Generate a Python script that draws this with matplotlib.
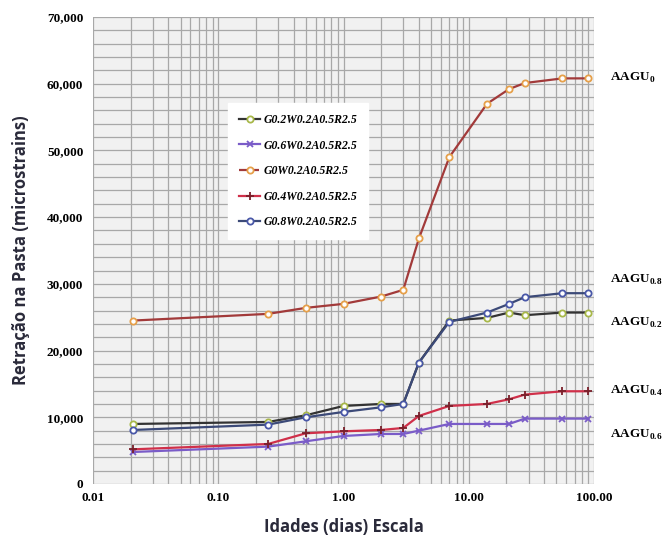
import matplotlib
matplotlib.use("Agg")
import matplotlib.pyplot as plt
from matplotlib.ticker import FixedLocator, FuncFormatter, MultipleLocator, LogLocator, NullFormatter

ages = [0.021, 0.25, 0.5, 1, 2, 3, 4, 7, 14, 21, 28, 56, 90]

g02 = [9000, 9300, 10300, 11700, 12000, 12000, 18200, 24500, 24900, 25700, 25300, 25700, 25700]
g06 = [4800, 5600, 6400, 7200, 7500, 7500, 8000, 9000, 9000, 9000, 9800, 9800, 9800]
g0 = [24500, 25500, 26400, 27000, 28100, 29100, 36800, 49000, 57000, 59200, 60100, 60800, 60800]
g04 = [5200, 6000, 7600, 7900, 8100, 8400, 10200, 11700, 12000, 12700, 13400, 13900, 13900]
g08 = [8100, 8900, 10000, 10800, 11500, 12000, 18200, 24300, 25700, 27000, 28000, 28600, 28600]

legend_names = ["G0.2W0.2A0.5R2.5", "G0.6W0.2A0.5R2.5", "G0W0.2A0.5R2.5",
                "G0.4W0.2A0.5R2.5", "G0.8W0.2A0.5R2.5"]
end_labels = [r"AAGU$_{\mathbf{0}}$", r"AAGU$_{\mathbf{0.8}}$", r"AAGU$_{\mathbf{0.2}}$",
              r"AAGU$_{\mathbf{0.4}}$", r"AAGU$_{\mathbf{0.6}}$"]
end_values = [60800, 28600, 25700, 13900, 9800]
end_offsets = [0, 2, -1.5, 0, -2.5]  # label nudges in thousand units

yticks = [0, 10000, 20000, 30000, 40000, 50000, 60000, 70000]
xticks = [0.01, 0.1, 1, 10, 100]
xticklabels = ["0.01", "0.10", "1.00", "10.00", "100.00"]

plt.rcParams["mathtext.fontset"] = "custom"
plt.rcParams["mathtext.rm"] = "Liberation Serif:bold"
plt.rcParams["mathtext.bf"] = "Liberation Serif:bold"

fig = plt.figure(figsize=(6.66, 5.42), dpi=100)
ax = fig.add_axes([93/666, 1-484/542, (594-93)/666, (484-17)/542])
ax.set_facecolor("#f1f1f1")

ax.plot(ages, g02, color="#333333", lw=1.6, marker="o", ms=4.5, mfc="white",
        mec="#a8b84a", mew=1.3, label=legend_names[0], zorder=3)
ax.plot(ages, g06, color="#7a5cc8", lw=1.6, marker="x", ms=5, mec="#7a5cc8",
        mew=1.3, label=legend_names[1], zorder=3)
ax.plot(ages, g0, color="#a23a3a", lw=1.6, marker="o", ms=4.5, mfc="white",
        mec="#e6a04a", mew=1.3, label=legend_names[2], zorder=4)
ax.plot(ages, g04, color="#d0304a", lw=1.6, marker="+", ms=6, mec="#7a1f2a",
        mew=1.3, label=legend_names[3], zorder=3)
ax.plot(ages, g08, color="#3c4a78", lw=1.6, marker="o", ms=4.5, mfc="white",
        mec="#4a58a8", mew=1.3, label=legend_names[4], zorder=3)

ax.set_xscale("log")
ax.set_xlim(0.01, 100)
ax.set_ylim(0, 70000)
ax.xaxis.set_major_locator(FixedLocator(xticks))
ax.set_xticklabels(xticklabels)
ax.xaxis.set_minor_locator(LogLocator(base=10, subs=range(2, 10)))
ax.xaxis.set_minor_formatter(NullFormatter())
ax.set_yticks(yticks)
ax.yaxis.set_major_formatter(FuncFormatter(lambda v, p: f"{int(v):,}"))
ax.yaxis.set_minor_locator(MultipleLocator(2000))

ax.grid(True, which="both", color="#a8a8a8", lw=0.9)
ax.set_axisbelow(True)
for s in ax.spines.values():
    s.set_visible(False)
ax.tick_params(which="both", length=0)
ax.tick_params(axis="y", pad=7)
ax.tick_params(axis="x", pad=6)
for lab in ax.get_xticklabels() + ax.get_yticklabels():
    lab.set_fontfamily("Liberation Serif")
    lab.set_fontweight("bold")
    lab.set_fontsize(9.5)

ax.set_ylabel("Retração na Pasta (microstrains)", fontsize=12, fontweight="bold",
              family="Open Sans", color="#2a2a3a", labelpad=12)
ax.set_xlabel("Idades (dias) Escala", fontsize=12, fontweight="bold",
              family="Open Sans", color="#2a2a3a", labelpad=10)

for lab, v, off in zip(end_labels, end_values, end_offsets):
    ax.annotate(lab, xy=(90, v + off * 1000), xytext=(16, 0), textcoords="offset points",
                fontsize=9.5, fontweight="bold", family="Liberation Serif",
                va="center", ha="left", annotation_clip=False)

leg = ax.legend(loc="upper left", bbox_to_anchor=(0.27, 0.815), frameon=True,
                prop={"family": "Liberation Serif", "size": 8.5, "weight": "bold", "style": "italic"},
                labelspacing=1.15, handlelength=1.8, handletextpad=0.3,
                borderpad=0.9, borderaxespad=0, fancybox=False)
leg.get_frame().set_edgecolor("white")
leg.get_frame().set_facecolor("white")
leg.get_frame().set_alpha(1)
leg.get_lines()[2].set_linestyle("--")

fig.savefig("out.png", dpi=100, facecolor="white")
